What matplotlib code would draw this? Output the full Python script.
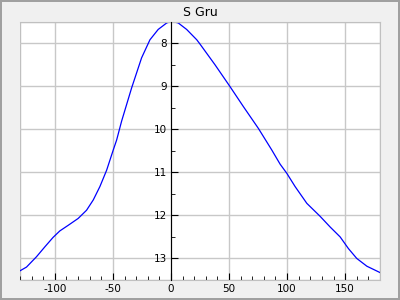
import matplotlib
matplotlib.use('Agg')
import matplotlib.pyplot as plt
from matplotlib.patches import Rectangle
from matplotlib.ticker import MultipleLocator

# light curve of S Gru (days from maximum vs magnitude)
days = [-130.2, -124.4, -115.8, -108.6, -101.5, -95.7, -88.5, -79.9, -72.7,
        -66.9, -61.2, -55.4, -49.7, -46.8, -42.5, -33.9, -25.3, -18.1, -11,
        -3.7, 0.6, 6.3, 13.5, 22.2, 25, 33.6, 37.9, 50.9, 62.3, 75.3, 86.8,
        94, 99.7, 106.9, 117, 128.4, 137.1, 145.7, 152.8, 160, 168.7, 180.2]
mags = [13.29, 13.20, 12.96, 12.73, 12.51, 12.36, 12.23, 12.07, 11.88,
        11.64, 11.33, 10.95, 10.48, 10.25, 9.81, 9.04, 8.34, 7.92, 7.68,
        7.53, 7.49, 7.53, 7.68, 7.92, 8.02, 8.34, 8.50, 9.01, 9.47, 9.98, 10.48,
        10.81, 11.02, 11.33, 11.72, 12.02, 12.27, 12.50, 12.77, 13.0, 13.18, 13.33]
title = 'S Gru'

plt.rcParams['axes.unicode_minus'] = False

fig = plt.figure(figsize=(4, 3), dpi=100, facecolor='#f0f0f0',
                 edgecolor='#a0a0a0', linewidth=1.5)
ax = fig.add_axes([0.05, 0.0667, 0.9, 0.861])

ax.plot(days, mags, color='blue', linewidth=0.9)
ax.set_xlim(-130, 180)
ax.set_ylim(13.5, 7.5)

ax.xaxis.set_major_locator(MultipleLocator(50))
ax.xaxis.set_minor_locator(MultipleLocator(10))
ax.yaxis.set_major_locator(MultipleLocator(1))
ax.yaxis.set_minor_locator(MultipleLocator(0.5))

ax.grid(True, which='major', color='#c8c8c8', linewidth=1)

for s in ['top', 'right', 'bottom']:
    ax.spines[s].set_color('#c0c0c0')
ax.spines['left'].set_position(('data', 0))
ax.spines['left'].set_color('black')
ax.spines['left'].set_zorder(3)
ax.add_patch(Rectangle((0, 0), 1, 1, transform=ax.transAxes, fill=False,
                       edgecolor='#c0c0c0', linewidth=1, zorder=0.5))

ax.tick_params(axis='both', which='both', direction='in', labelsize=7.5,
               colors='black', pad=3)
ax.tick_params(axis='both', which='major', length=5)
ax.tick_params(axis='both', which='minor', length=3)

ax.set_title(title, fontsize=9, pad=4)

fig.savefig('out.png', dpi=100)
